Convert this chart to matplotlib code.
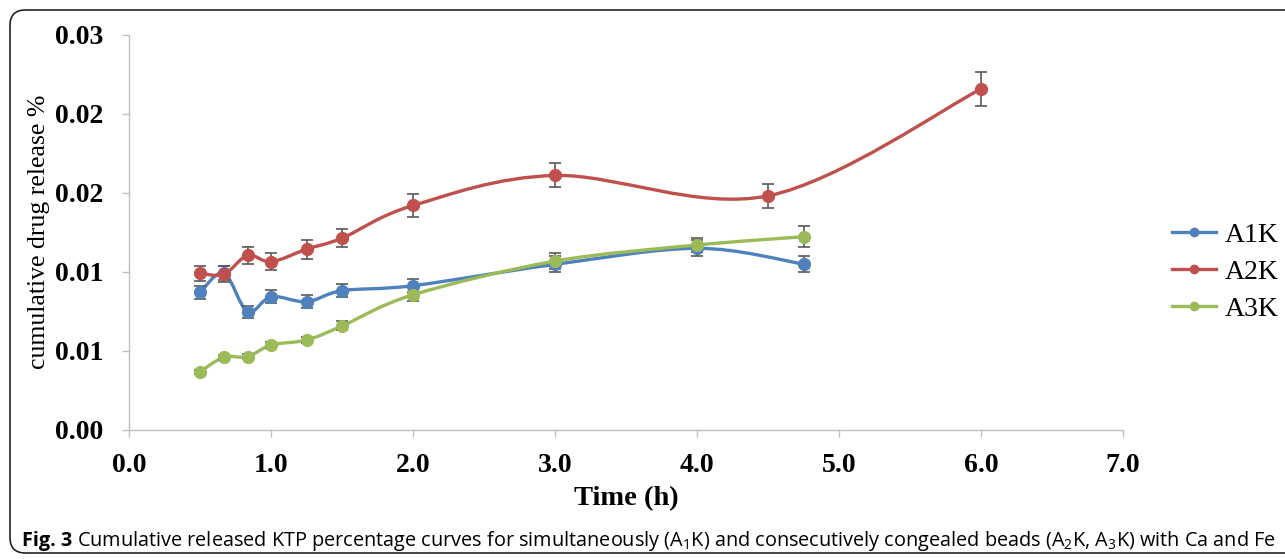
import numpy as np
import matplotlib
matplotlib.use("Agg")
import matplotlib.pyplot as plt
from matplotlib.path import Path
from matplotlib.patches import PathPatch, FancyBboxPatch
from matplotlib.ticker import FormatStrFormatter

# Data
t_a1 = [0.5, 0.667, 0.833, 1.0, 1.25, 1.5, 2.0, 3.0, 4.0, 4.75]
a1k = [0.01043, 0.0119, 0.00896, 0.01010, 0.00972, 0.01056, 0.01094, 0.01256, 0.01378, 0.01258]
a1k_err = [0.0005, 0.0005, 0.00047, 0.0005, 0.0005, 0.0005, 0.00047, 0.0006, 0.0006, 0.0006]

t_a2 = [0.5, 0.667, 0.833, 1.0, 1.25, 1.5, 2.0, 3.0, 4.5, 6.0]
a2k = [0.01188, 0.0118, 0.01324, 0.01276, 0.01372, 0.01456, 0.01704, 0.01932, 0.01777, 0.02590]
a2k_err = [0.00058, 0.0006, 0.00066, 0.00063, 0.00072, 0.00071, 0.00086, 0.00091, 0.00092, 0.0013]

t_a3 = [0.5, 0.667, 0.833, 1.0, 1.25, 1.5, 2.0, 3.0, 4.0, 4.75]
a3k = [0.00441, 0.0055, 0.00554, 0.00643, 0.00681, 0.00788, 0.01025, 0.01281, 0.01403, 0.01466]
a3k_err = [0.00015, 0.0002, 0.0002, 0.0002, 0.00025, 0.00034, 0.0005, 0.0006, 0.0005, 0.00079]

y_ticks = [0.0, 0.006, 0.012, 0.018, 0.024, 0.03]
x_ticks = [0, 1, 2, 3, 4, 5, 6, 7]

colors = {"A1K": "#4F81BD", "A2K": "#C0504D", "A3K": "#9BBB59"}


def smooth_path(x, y):
    # Excel-style smoothed line: cubic Bezier segments through the points
    x = np.asarray(x, float)
    y = np.asarray(y, float)
    n = len(x)
    verts = [(x[0], y[0])]
    codes = [Path.MOVETO]
    for i in range(n - 1):
        p0 = np.array([x[max(i - 1, 0)], y[max(i - 1, 0)]])
        p1 = np.array([x[i], y[i]])
        p2 = np.array([x[i + 1], y[i + 1]])
        p3 = np.array([x[min(i + 2, n - 1)], y[min(i + 2, n - 1)]])
        c1 = p1 + (p2 - p0) / 6.0
        c2 = p2 - (p3 - p1) / 6.0
        verts += [tuple(c1), tuple(c2), tuple(p2)]
        codes += [Path.CURVE4] * 3
    return Path(verts, codes)


plt.rcParams['font.family'] = ['Liberation Serif', 'DejaVu Serif']
plt.rcParams['mathtext.fontset'] = 'custom'
plt.rcParams['mathtext.rm'] = 'Open Sans'

fig = plt.figure(figsize=(12.85, 5.59), dpi=100)
ax = fig.add_axes([0.1006, 0.2316, 0.7734, 0.7058])

series = [("A1K", t_a1, a1k, a1k_err), ("A2K", t_a2, a2k, a2k_err), ("A3K", t_a3, a3k, a3k_err)]
handles = []
for name, t, v, e in series:
    c = colors[name]
    ax.add_patch(PathPatch(smooth_path(t, v), fill=False, edgecolor=c, lw=2.4,
                           capstyle='round', zorder=2))
    ax.errorbar(t, v, yerr=e, fmt='none', ecolor='#595959', elinewidth=1.2,
                capsize=4, capthick=1.2, zorder=3)
    ax.plot(t, v, 'o', color=c, markersize=8.5, zorder=4)
    h, = ax.plot([], [], '-o', color=c, lw=2.4, markersize=6, label=name)
    handles.append(h)

ax.set_xlim(0, 7)
ax.set_ylim(0, 0.03)
ax.set_xticks(x_ticks)
ax.set_yticks(y_ticks)
ax.xaxis.set_major_formatter(FormatStrFormatter('%.1f'))
ax.yaxis.set_major_formatter(FormatStrFormatter('%.2f'))

for s in ['top', 'right']:
    ax.spines[s].set_visible(False)
for s in ['left', 'bottom']:
    ax.spines[s].set_color('#BFBFBF')
    ax.spines[s].set_linewidth(1.0)
ax.tick_params(axis='both', colors='#BFBFBF', length=5, width=1.0, direction='out',
               labelcolor='black', labelsize=20)
ax.tick_params(axis='x', pad=12)
ax.tick_params(axis='y', pad=14)
for lab in ax.get_xticklabels() + ax.get_yticklabels():
    lab.set_fontweight('bold')

ax.set_xlabel('Time (h)', fontsize=20.5, fontweight='bold', labelpad=6)
ax.set_ylabel('cumulative drug release %', fontsize=18.5, labelpad=3)

fig.legend(handles=handles, loc='center left', bbox_to_anchor=(0.912, 0.5134),
           frameon=False, fontsize=20, handlelength=1.6, labelspacing=0.42,
           handletextpad=0.3, borderpad=0, borderaxespad=0)

# rounded frame around the figure
frame = FancyBboxPatch((10 / 1285, 6 / 559), 1.2, (549 - 6) / 559,
                       boxstyle='round,pad=0,rounding_size=0.012',
                       transform=fig.transFigure, fill=False, edgecolor='#222222',
                       lw=1.2, clip_on=False, mutation_aspect=1285 / 559)
fig.patches.append(frame)

caption = (r'Cumulative released KTP percentage curves for simultaneously (A$_{1}$K) '
           r'and consecutively congealed beads (A$_{2}$K, A$_{3}$K) with Ca and Fe')
t1 = fig.text(22 / 1285, 1 - 541 / 559, 'Fig. 3', fontsize=14.3, fontweight='bold',
              family='Open Sans', va='center', ha='left')
fig.canvas.draw()
bb = t1.get_window_extent()
fig.text((bb.x1 + 5) / 1285, 1 - 541 / 559, caption, fontsize=14.3,
         family='Open Sans', va='center', ha='left')

fig.savefig('out.png', dpi=100)
